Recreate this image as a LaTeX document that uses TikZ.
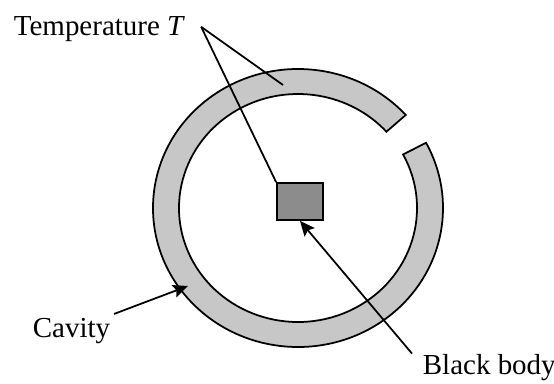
\documentclass[tikz,border=0pt]{standalone}
\usepackage{fontspec}
\setmainfont{Liberation Serif}
\usetikzlibrary{arrows.meta, positioning, calc}
\begin{document}
\begin{tikzpicture}[x=0.02cm, y=0.02cm, >={Stealth[length=8.5pt, width=7.5pt, inset=1.5pt]},
        lbl/.style={inner sep=2pt, font=\fontsize{16.5}{19}\selectfont},
        ln/.style={line width=1pt},
        wall/.style={draw, line width=1pt, fill=black!22},
        bbx/.style={draw, line width=1pt, fill=black!45, minimum width=0.92cm, minimum height=0.74cm, inner sep=0pt}]
        \useasboundingbox (0,0) rectangle (554,383);
        \coordinate (c) at (298,175);
        \draw[wall] ($(c)+(42:145 and 139)$) arc[start angle=42, end angle=388, x radius=145, y radius=139]
            -- ($(c)+(28:119 and 114)$) arc[start angle=388, end angle=42, x radius=119, y radius=114] -- cycle;
        \node[bbx] (bb) at (300,181.5) {};
        \node[lbl, anchor=base west] (temp) at (10,348) {Temperature \textit{T}};
        \node[lbl, anchor=base west] (cav) at (29,46) {Cavity};
        \node[lbl, anchor=base west] (blk) at (419,9) {Black body};
        \coordinate (wallpt) at (283,298);
        \coordinate (cavpt) at (188,97);
        \draw[ln] ([xshift=7pt, yshift=1pt]temp.east) -- (wallpt);
        \draw[ln] ([xshift=7pt, yshift=1pt]temp.east) -- (bb.north west);
        \draw[->, ln] (cav.north east) -- (cavpt);
        \draw[->, ln] ([xshift=-4pt, yshift=-2pt]blk.north west) -- (bb.south);
\end{tikzpicture}
\end{document}
